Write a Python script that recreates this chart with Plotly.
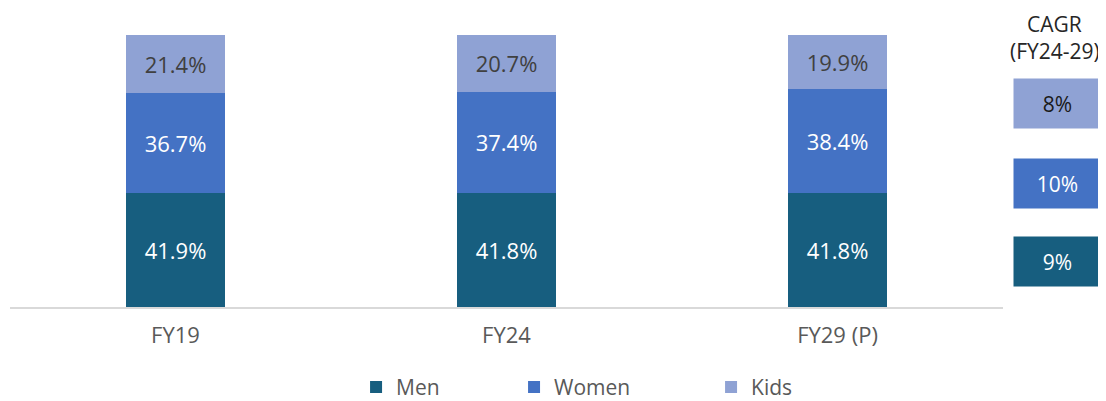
import plotly.graph_objects as go

# share of market by segment
years = ['FY19', 'FY24', 'FY29 (P)']
men = [41.9, 41.8, 41.8]
women = [36.7, 37.4, 38.4]
kids = [21.4, 20.7, 19.9]

# CAGR FY24-29 per segment
segments = ['Men', 'Women', 'Kids']
cagr = [9, 10, 8]

colors = {'Men': '#175E7F', 'Women': '#4472C4', 'Kids': '#8FA2D4'}
label_colors = {'Men': 'white', 'Women': 'white', 'Kids': '#404040'}
font = 'Open Sans'

# one legend per series so the entries can sit where the original has them
legend_ids = {'Men': 'legend', 'Women': 'legend2', 'Kids': 'legend3'}
legend_x = {'Men': 0.3485, 'Women': 0.5076, 'Kids': 0.706}

fig = go.Figure()
for name, vals in zip(segments, [men, women, kids]):
    fig.add_trace(go.Bar(
        x=years, y=vals, name=name,
        marker=dict(color=colors[name], line=dict(width=0)),
        text=[f'{v:.1f}%' for v in vals],
        textposition='inside', insidetextanchor='middle',
        textfont=dict(size=22, color=label_colors[name], family=font),
        width=0.3, legend=legend_ids[name],
    ))

# page body has an 8px margin, so the figure is a bit smaller than the window
leg = dict(orientation='h', yref='container', y=0.035, yanchor='middle',
           xanchor='left', font=dict(size=21, color='#595959'),
           itemwidth=30, bgcolor='rgba(0,0,0,0)')
fig.update_layout(
    barmode='stack',
    width=1098, height=393,
    margin=dict(l=2, r=103, t=27, b=94, autoexpand=False),
    plot_bgcolor='white', paper_bgcolor='white',
    font=dict(family=font, color='#595959'),
    showlegend=True,
    legend=dict(leg, x=legend_x['Men']),
    legend2=dict(leg, x=legend_x['Women']),
    legend3=dict(leg, x=legend_x['Kids']),
)
fig.update_xaxes(showline=True, linecolor='#D9D9D9', linewidth=1.5, automargin=False,
                 ticks='outside', ticklen=8, tickcolor='rgba(0,0,0,0)',
                 tickfont=dict(size=22, color='#595959'), showgrid=False)
fig.update_yaxes(range=[0, 100], visible=False, showgrid=False, automargin=False)

# CAGR boxes on the right
box_y = {'Kids': 0.747, 'Women': 0.455, 'Men': 0.168}
cagr_text_colors = {'Men': 'white', 'Women': 'white', 'Kids': '#1a1a1a'}
for name, c in zip(segments, cagr):
    fig.add_annotation(
        xref='paper', yref='paper', x=1.055, y=box_y[name],
        xanchor='center', yanchor='middle',
        text=f'{c}%', showarrow=False, bgcolor=colors[name],
        width=87, height=49, borderpad=0,
        font=dict(size=21, color=cagr_text_colors[name], family=font),
    )
for txt, yy in [('CAGR', 1.042), ('(FY24-29)', 0.942)]:
    fig.add_annotation(
        xref='paper', yref='paper', x=1.052, y=yy, xanchor='center', yanchor='middle',
        text=txt, showarrow=False,
        font=dict(size=21, color='#262626', family=font),
    )

fig.write_html('out.html')
